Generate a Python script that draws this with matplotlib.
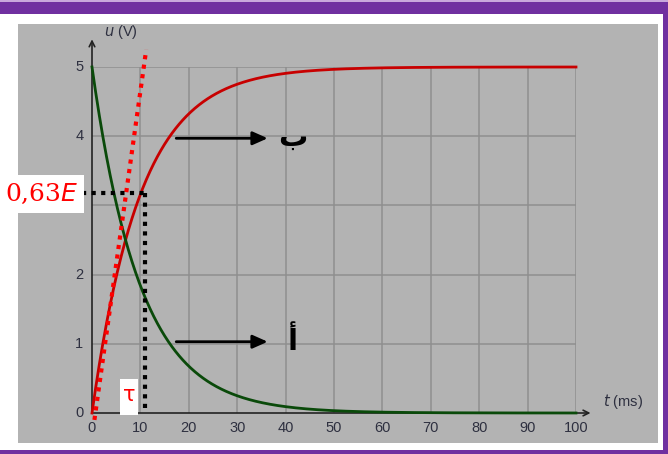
import numpy as np
import matplotlib.pyplot as plt
from matplotlib.patches import Rectangle

# RC circuit: charging (b) and discharging (a) voltage across the capacitor
E = 5.0
tau = 10.0
t = np.linspace(0, 100, 801)
u_charge = E * (1 - np.exp(-t / tau))
u_discharge = E * np.exp(-t / tau)

x_ticks = [0, 10, 20, 30, 40, 50, 60, 70, 80, 90, 100]
y_ticks = [0, 1, 2, 4, 5]
grid_x = [10, 20, 30, 40, 50, 60, 70, 80, 90, 100]
grid_y = [1, 2, 3, 4, 5]

# hand-drawn construction: tangent at the origin and the 0.63E readout
tangent_t = [0.5, 11.2]
tangent_u = [-0.1, 5.25]
tau_mark = 10.9
u_mark = 3.18

W, H = 668, 454
fig = plt.figure(figsize=(W / 100, H / 100), dpi=100)
fig.patch.set_facecolor("white")


def px(x0, y0, w, h, **kw):
    # rectangle in figure pixels, y measured from the top
    fig.patches.append(Rectangle((x0 / W, 1 - (y0 + h) / H), w / W, h / H,
                                 transform=fig.transFigure, figure=fig, **kw))


purple = "#7030a0"
px(0, 0, W, 2, color="#c8a8dc", lw=0, zorder=-2)
px(0, 2, W, 12, color=purple, lw=0, zorder=-2)
px(663, 2, 5, H - 2, color=purple, lw=0, zorder=-2)
px(0, 450, W, 4, color=purple, lw=0, zorder=-2)
px(18, 24, 640, 419, color="#b3b3b3", lw=0, zorder=-2)

ax = fig.add_axes([92 / W, (H - 413) / H, 484 / W, 346 / H])
ax.set_zorder(1)
ax.set_xlim(0, 100)
ax.set_ylim(0, 5)
ax.axis("off")

gcol = "#8f8f8f"
for gx in grid_x:
    ax.plot([gx, gx], [0, 5], color=gcol, lw=1.1, zorder=1)
for gy in grid_y:
    ax.plot([0, 100], [gy, gy], color=gcol, lw=1.1, zorder=1)

# axes drawn as arrows
ax.annotate("", xy=(103, 0), xytext=(0, 0),
            arrowprops=dict(arrowstyle="->", color="#222222", lw=1.2,
                            shrinkA=0, shrinkB=0), annotation_clip=False)
ax.annotate("", xy=(0, 5.4), xytext=(0, 0),
            arrowprops=dict(arrowstyle="->", color="#222222", lw=1.2,
                            shrinkA=0, shrinkB=0), annotation_clip=False)

tick_font = dict(family="Liberation Sans", fontsize=10.5, color="#2e3040")
for xv in x_ticks:
    ax.text(xv, -0.12, str(xv), ha="center", va="top", **tick_font)
for yv in y_ticks:
    ax.text(-1.8, yv, str(yv), ha="right", va="center", **tick_font)
ax.text(2.5, 5.5, "$u$ (V)", ha="left", va="center", **tick_font)
ax.text(105.5, 0.17, "$t$ (ms)", ha="left", va="center", **tick_font)

ax.plot(t, u_charge, color="#c80000", lw=2, zorder=3, clip_on=False)
ax.plot(t, u_discharge, color="#0a4a0a", lw=2, zorder=3, clip_on=False)

ax.plot(tangent_t, tangent_u, color="#ff0000", lw=3, ls=(0, (1, 1.3)),
        zorder=4, clip_on=False)
ax.plot([-2, tau_mark], [u_mark, u_mark], color="black", lw=3,
        ls=(0, (1, 1.3)), zorder=4, clip_on=False)
ax.plot([tau_mark, tau_mark], [u_mark, 0], color="black", lw=3,
        ls=(0, (1, 1.3)), zorder=4, clip_on=False)

# labels for the construction
px(0, 175, 84, 38, color="white", lw=0, zorder=5)
fig.text(42 / W, 1 - 194 / H, "0,63$E$", ha="center", va="center",
         color="#ff0000", fontsize=18, family="DejaVu Serif", zorder=6)
px(120, 379, 18, 36, color="white", lw=0, zorder=5)
fig.text(129 / W, 1 - 395 / H, "τ", ha="center", va="center",
         color="#ff0000", fontsize=15, family="DejaVu Sans", zorder=6)

# curve labels
for u_arrow, label in [(3.97, "ب"), (1.03, "أ")]:
    ax.annotate("", xy=(36.3, u_arrow), xytext=(17.4, u_arrow),
                arrowprops=dict(arrowstyle="-|>,head_length=0.9,head_width=0.4",
                                color="black", lw=2, shrinkA=0, shrinkB=0))
    ax.text(41.5, u_arrow, label, ha="center", va="center", fontsize=21,
            family="DejaVu Sans", fontweight="bold", color="black")

fig.savefig("out.png", dpi=100)
